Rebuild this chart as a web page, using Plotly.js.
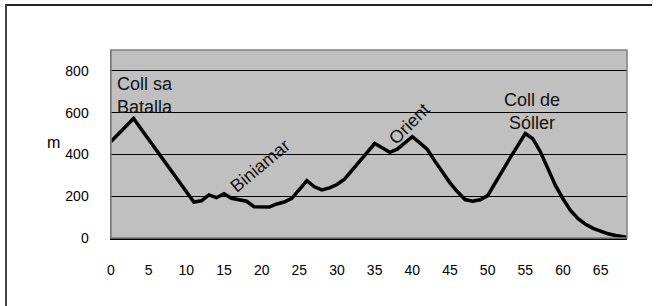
<!DOCTYPE html>
<html>
<head>
<meta charset="utf-8">
<script src="https://cdn.plot.ly/plotly-3.0.1.min.js"></script>
<style>
  html, body { margin: 0; padding: 0; background: #fff; }
  #wrap { position: relative; width: 663px; height: 306px; overflow: hidden; }
  #chart { position: absolute; left: 0; top: 0; width: 663px; height: 306px; }
  #frame { position: absolute; left: 5px; top: 4px; width: 647px; height: 330px;
           border-top: 2px solid #222; border-left: 2px solid #444; box-sizing: border-box;
           pointer-events: none; }
</style>
</head>
<body>
<div id="wrap"><div id="chart"></div><div id="frame"></div></div>
<script>
// Distance along the route (km)
const km = [0,1,2,3,4,5,6,7,8,9,10,11,12,13,14,15,16,17,18,19,20,21,22,23,24,25,26,27,28,29,30,31,32,33,34,35,36,37,38,39,40,41,42,43,44,45,46,47,48,49,50,51,52,53,54,55,56,57,58,59,60,61,62,63,64,65,66,67,68,68.5];
// Elevation (m)
const elevation = [462,499,536,572,522,472,422,372,322,272,222,172,178,206,193,212,190,182,176,150,148,148,163,172,190,232,274,245,230,240,256,282,324,362,410,452,432,410,425,455,485,455,424,368,313,264,221,184,176,183,203,265,325,385,442,500,475,413,332,252,188,132,92,66,46,32,20,12,6,3];

// Place names (labels) and their positions
const placeNames = ["Coll sa<br>Batalla", "Biniamar", "Orient", "Coll de<br>Sóller"];
const placeKm = [0.5, 19.8, 39.6, 55.9];
const placeElev = [795, 343, 545, 718];

const yTicks = [0, 200, 400, 600, 800];
const xTicks = [0, 5, 10, 15, 20, 25, 30, 35, 40, 45, 50, 55, 60, 65];

const labelFont = { family: "Liberation Sans, Arial, sans-serif", size: 18, color: "#111" };

const trace = {
  x: km, y: elevation, type: "scatter", mode: "lines",
  line: { color: "#000", width: 3.5, shape: "linear" },
  hoverinfo: "skip"
};

const layout = {
  width: 663, height: 306,
  margin: { l: 111, r: 36, t: 50, b: 68, pad: 0 },
  paper_bgcolor: "#ffffff",
  plot_bgcolor: "#c0c0c0",
  showlegend: false,
  xaxis: {
    range: [0, 68.5], tickvals: xTicks, ticktext: xTicks.map(String),
    showgrid: false, zeroline: false, showline: true, linecolor: "#000", linewidth: 1.5,
    ticks: "", ticklabelstandoff: 19,
    tickfont: { family: "Liberation Sans Narrow, Liberation Sans, Arial, sans-serif", size: 14, color: "#000" },
    fixedrange: true
  },
  yaxis: {
    range: [0, 900], tickvals: yTicks, ticktext: yTicks.map(String),
    showgrid: true, gridcolor: "#000", gridwidth: 1, zeroline: false,
    showline: true, linecolor: "#555", linewidth: 1.5,
    ticks: "", ticklabelstandoff: 18,
    tickfont: { family: "Liberation Sans Narrow, Liberation Sans, Arial, sans-serif", size: 14, color: "#000" },
    fixedrange: true
  },
  shapes: [
    { type: "rect", xref: "paper", yref: "paper", x0: 0, x1: 1, y0: 0, y1: 1,
      line: { color: "#808080", width: 1.5 }, fillcolor: "rgba(0,0,0,0)", layer: "above" }
  ],
  annotations: [
    { text: placeNames[0], x: placeKm[0], y: placeElev[0], xref: "x", yref: "y",
      xanchor: "left", yanchor: "top", align: "left", showarrow: false, font: labelFont },
    { text: placeNames[1], x: placeKm[1], y: placeElev[1], xref: "x", yref: "y",
      xanchor: "center", yanchor: "middle", textangle: -40, showarrow: false, font: labelFont },
    { text: placeNames[2], x: placeKm[2], y: placeElev[2], xref: "x", yref: "y",
      xanchor: "center", yanchor: "middle", textangle: -45, showarrow: false, font: labelFont },
    { text: placeNames[3], x: placeKm[3], y: placeElev[3], xref: "x", yref: "y",
      xanchor: "center", yanchor: "top", align: "center", showarrow: false, font: labelFont },
    { text: "m", xref: "paper", yref: "paper", x: -0.112, y: 0.51,
      xanchor: "center", yanchor: "middle", showarrow: false,
      font: { family: "Liberation Sans, Arial, sans-serif", size: 16, color: "#000" } }
  ]
};

Plotly.newPlot("chart", [trace], layout, { displayModeBar: false, staticPlot: true });
</script>
</body>
</html>
